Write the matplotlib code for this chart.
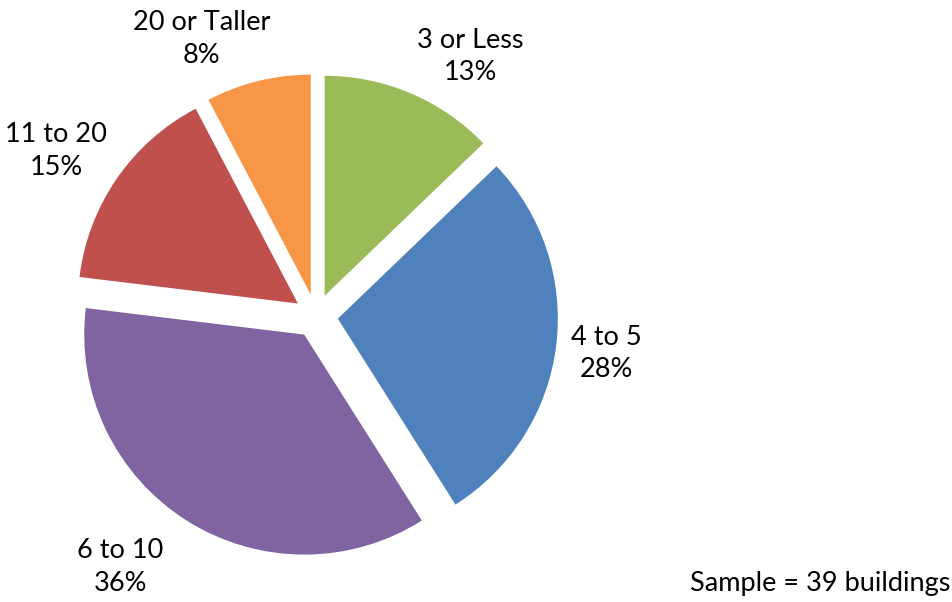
import matplotlib as mpl; mpl.use('Agg'); import matplotlib.pyplot as plt
mpl.rcParams.update({'font.family':['Lato','DejaVu Sans'],'font.size':19.5})

# building height groups (storeys), counts out of 39 buildings
labels=['3 or Less','4 to 5','6 to 10','11 to 20','20 or Taller']
counts=[5,11,14,6,3]
colors=['#9BBB59','#4F81BD','#8064A2','#C0504D','#F79646']
# label anchors per slice, in pie-radius units
label_xy=[(0.70,1.18),(1.32,-0.17),(-0.89,-1.14),(-1.18,0.75),(-0.52,1.26)]

W,H=953,602; cx,cy,R=316,316,220; half=1.3
fig=plt.figure(figsize=(W/100,H/100),dpi=100)
ax=fig.add_axes([(cx-half*R)/W,(H-cy-half*R)/H,2*half*R/W,2*half*R/H])
ax.pie(counts,colors=colors,startangle=90,counterclock=False,explode=[0.1]*5,radius=1,
       wedgeprops={'edgecolor':'none'})
ax.set_xlim(-half,half); ax.set_ylim(-half,half); ax.set_aspect('equal'); ax.axis('off')
tot=sum(counts)
for lab,c,(x,y) in zip(labels,counts,label_xy):
    ax.text(x,y,f'{lab}\n{round(100*c/tot)}%',ha='center',va='center',linespacing=1.38)
fig.text(950/W,1-584/H,'Sample = 39 buildings',ha='right',va='center')
fig.savefig('out.png',dpi=100)
